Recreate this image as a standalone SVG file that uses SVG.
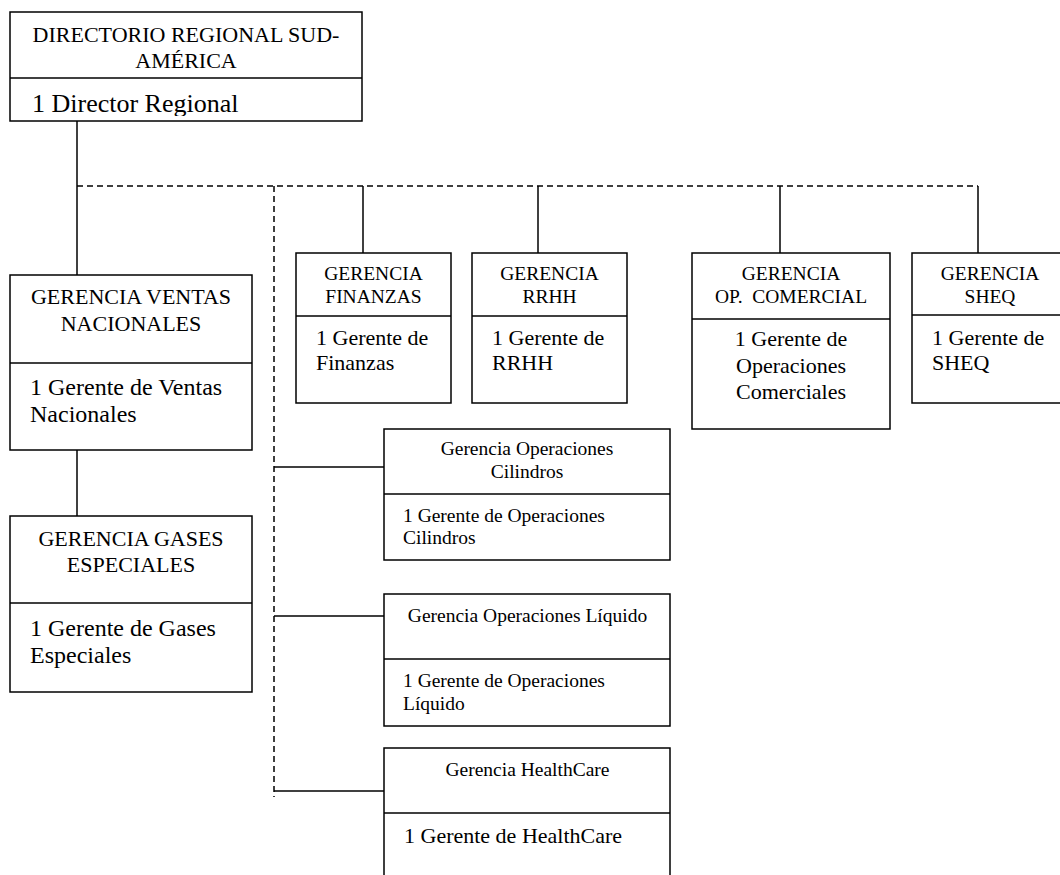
<svg xmlns="http://www.w3.org/2000/svg" width="1060" height="875" viewBox="0 0 1060 875">
  <style>
    .box { fill: #fff; stroke: #000; stroke-width: 1.5; }
    .div { stroke: #000; stroke-width: 1.5; }
    .solid { stroke: #000; stroke-width: 1.5; fill: none; }
    .dash { stroke: #000; stroke-width: 1.5; fill: none; stroke-dasharray: 6 4; }
    text { font-family: "Liberation Serif", "Times New Roman", serif; fill: #000; }
    .c { text-anchor: middle; }
    .f195 { font-size: 19.5px; }
    .f22 { font-size: 22px; }
    .f24 { font-size: 24px; }
    .f26 { font-size: 26px; }
  </style>
  <defs>
    <!-- the director line sits in a cell that trims its descenders -->
    <clipPath id="clip-top"><rect x="10" y="78" width="352" height="38"/></clipPath>
  </defs>
  <rect width="1060" height="875" fill="#fff"/>

  <!-- connectors -->
  <g id="connectors">
    <line class="solid" x1="77" y1="121" x2="77" y2="275"/>
    <line class="solid" x1="77" y1="450" x2="77" y2="516"/>
    <line class="dash" x1="77" y1="186" x2="978" y2="186"/>
    <line class="dash" x1="274" y1="186" x2="274" y2="797"/>
    <line class="solid" x1="363" y1="186" x2="363" y2="253"/>
    <line class="solid" x1="538" y1="186" x2="538" y2="253"/>
    <line class="solid" x1="780" y1="186" x2="780" y2="253"/>
    <line class="solid" x1="978" y1="186" x2="978" y2="253"/>
    <line class="solid" x1="274" y1="467" x2="384" y2="467"/>
    <line class="solid" x1="274" y1="616" x2="384" y2="616"/>
    <line class="solid" x1="274" y1="791" x2="384" y2="791"/>
  </g>

  <!-- regional board -->
  <g id="directorio">
    <rect class="box" x="10" y="12" width="352" height="109"/>
    <line class="div" x1="10" y1="78" x2="362" y2="78"/>
    <text class="c f22" x="186" y="42">DIRECTORIO REGIONAL SUD-</text>
    <text class="c f22" x="186" y="68">AMÉRICA</text>
    <g clip-path="url(#clip-top)">
      <text class="f26" x="32" y="112">1 Director Regional</text>
    </g>
  </g>

  <!-- national sales -->
  <g id="ventas">
    <rect class="box" x="10" y="275" width="242" height="175"/>
    <line class="div" x1="10" y1="363" x2="252" y2="363"/>
    <text class="c f22" x="131" y="304">GERENCIA VENTAS</text>
    <text class="c f22" x="131" y="331">NACIONALES</text>
    <text class="f24" x="30" y="395">1 Gerente de Ventas</text>
    <text class="f24" x="30" y="422">Nacionales</text>
  </g>

  <!-- special gases -->
  <g id="gases">
    <rect class="box" x="10" y="516" width="242" height="176"/>
    <line class="div" x1="10" y1="603" x2="252" y2="603"/>
    <text class="c f22" x="131" y="546">GERENCIA GASES</text>
    <text class="c f22" x="131" y="572">ESPECIALES</text>
    <text class="f24" x="30" y="636">1 Gerente de Gases</text>
    <text class="f24" x="30" y="663">Especiales</text>
  </g>

  <!-- finance -->
  <g id="finanzas">
    <rect class="box" x="296" y="253" width="155" height="150"/>
    <line class="div" x1="296" y1="316" x2="451" y2="316"/>
    <text class="c f195" x="373.5" y="280">GERENCIA</text>
    <text class="c f195" x="373.5" y="303">FINANZAS</text>
    <text class="f22" x="316" y="345">1 Gerente de</text>
    <text class="f22" x="316" y="370">Finanzas</text>
  </g>

  <!-- human resources -->
  <g id="rrhh">
    <rect class="box" x="472" y="253" width="155" height="150"/>
    <line class="div" x1="472" y1="316" x2="627" y2="316"/>
    <text class="c f195" x="549.5" y="280">GERENCIA</text>
    <text class="c f195" x="549.5" y="303">RRHH</text>
    <text class="f22" x="492" y="345">1 Gerente de</text>
    <text class="f22" x="492" y="370">RRHH</text>
  </g>

  <!-- commercial operations -->
  <g id="op-comercial">
    <rect class="box" x="692" y="253" width="198" height="176"/>
    <line class="div" x1="692" y1="319" x2="890" y2="319"/>
    <text class="c f195" x="791" y="280">GERENCIA</text>
    <text class="c f195" x="791" y="303" xml:space="preserve">OP.  COMERCIAL</text>
    <text class="c f22" x="791" y="346">1 Gerente de</text>
    <text class="c f22" x="791" y="373">Operaciones</text>
    <text class="c f22" x="791" y="399">Comerciales</text>
  </g>

  <!-- safety, health, environment, quality -->
  <g id="sheq">
    <rect class="box" x="912" y="253" width="156" height="150"/>
    <line class="div" x1="912" y1="315" x2="1068" y2="315"/>
    <text class="c f195" x="990" y="280">GERENCIA</text>
    <text class="c f195" x="990" y="303">SHEQ</text>
    <text class="f22" x="932" y="345">1 Gerente de</text>
    <text class="f22" x="932" y="370">SHEQ</text>
  </g>

  <!-- cylinder operations -->
  <g id="cilindros">
    <rect class="box" x="384" y="429" width="286" height="131"/>
    <line class="div" x1="384" y1="494" x2="670" y2="494"/>
    <text class="c f195" x="527" y="455">Gerencia Operaciones</text>
    <text class="c f195" x="527" y="478">Cilindros</text>
    <text class="f195" x="403" y="522">1 Gerente de Operaciones</text>
    <text class="f195" x="403" y="544">Cilindros</text>
  </g>

  <!-- liquid operations -->
  <g id="liquido">
    <rect class="box" x="384" y="594" width="286" height="132"/>
    <line class="div" x1="384" y1="659" x2="670" y2="659"/>
    <text class="c f195" x="527.5" y="622">Gerencia Operaciones Líquido</text>
    <text class="f195" x="403" y="687">1 Gerente de Operaciones</text>
    <text class="f195" x="403" y="710">Líquido</text>
  </g>

  <!-- healthcare -->
  <g id="healthcare">
    <rect class="box" x="384" y="748" width="286" height="140"/>
    <line class="div" x1="384" y1="813" x2="670" y2="813"/>
    <text class="c f195" x="527.5" y="776">Gerencia HealthCare</text>
    <text class="f22" x="404" y="843">1 Gerente de HealthCare</text>
  </g>
</svg>
